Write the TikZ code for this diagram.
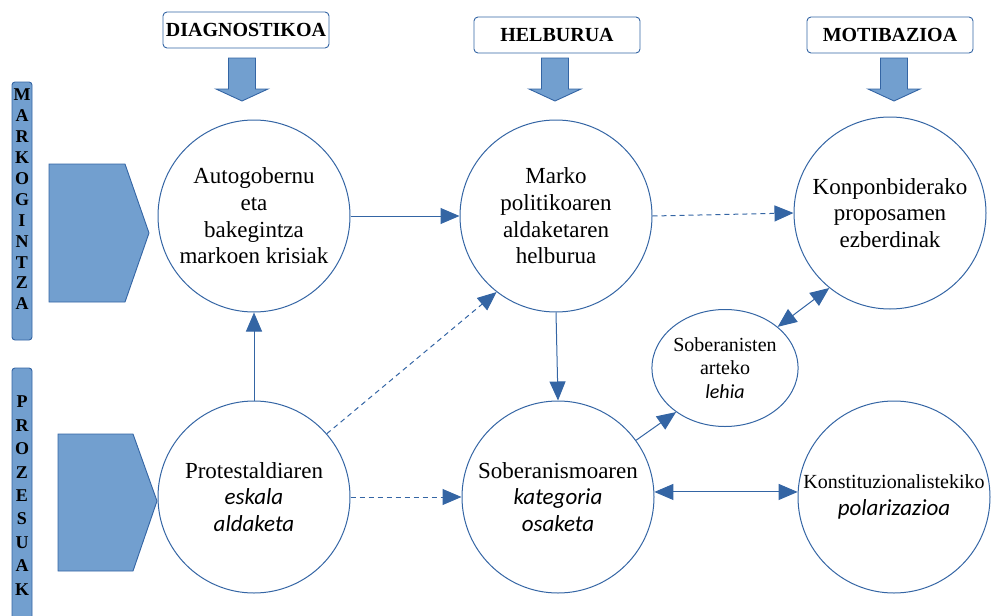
\documentclass[tikz,border=0pt]{standalone}
\usepackage{fontspec}
\setmainfont{Liberation Serif}
\newfontfamily\carlito{Carlito}
\usepackage{tikz}
\usetikzlibrary{arrows.meta,shapes.geometric}
\definecolor{markoblue}{RGB}{52,101,164}
\definecolor{markopale}{RGB}{114,159,207}
\newcommand{\etz}[1]{{\carlito\itshape #1}}

\begin{document}
\begin{tikzpicture}[x=1pt,y=-1pt,>={Triangle[length=19pt,width=16pt]},
  every node/.style={align=center,font=\fontsize{23}{26.6}\selectfont},
  hub/.style={draw=markoblue,line width=1pt,circle,minimum size=192pt,inner sep=0pt},
  header/.style={draw=markoblue,line width=0.9pt,rounded corners=4pt,minimum width=166pt,
    minimum height=36pt,inner sep=1pt,font=\fontsize{20}{24}\selectfont\bfseries},
  sidebar/.style={draw=markoblue,fill=markopale,line width=0.9pt},
  conn/.style={->,markoblue,line width=1pt},
  dconn/.style={conn,dash pattern=on 5pt off 4pt}]
  \useasboundingbox (0,0) rectangle (991,616);

  % column headers and their block arrows
  \node[header] (diag) at (246,30) {DIAGNOSTIKOA};
  \node[header] (helb) at (557,35) {HELBURUA};
  \node[header] (moti) at (890,35) {MOTIBAZIOA};
  \foreach \ax in {242,555,894}
    \filldraw[sidebar] (\ax-13.5,58) -- ++(27,0) -- ++(0,31) -- ++(12.5,0)
      -- ++(-26,12) -- ++(-26,-12) -- ++(12.5,0) -- cycle;

  % row labels
  \filldraw[sidebar,rounded corners=3pt] (12,82) rectangle (32,340);
  \filldraw[sidebar] (12,616) {[rounded corners=3pt] -- (12,368) -- (32,368)} -- (32,616);
  \node[font=\fontsize{18}{20.9}\selectfont\bfseries] (markolab) at (22,199.5)
    {M\\A\\R\\K\\O\\G\\I\\N\\T\\Z\\A};
  \node[font=\fontsize{18}{23.4}\selectfont\bfseries] (prozlab) at (22,495.5)
    {P\\R\\O\\Z\\E\\S\\U\\A\\K};
  \filldraw[sidebar] (49,164) -- (125,164) -- (149,233) -- (125,302) -- (49,302) -- cycle;
  \filldraw[sidebar] (58,434) -- (133,434) -- (157,501) -- (133,571) -- (58,571) -- cycle;

  % circles
  \node[hub] (auto) at (254,216) {Autogobernu\\eta\\bakegintza\\markoen krisiak};
  \node[hub] (marko) at (556,216) {Marko\\politikoaren\\aldaketaren\\helburua};
  \node[hub] (konp) at (890,213) {Konponbiderako\\proposamen\\ezberdinak};
  \node[hub] (prot) at (254,497) {Protestaldiaren\\\etz{eskala}\\\etz{aldaketa}};
  \node[hub] (sobm) at (558,497) {Soberanismoaren\\\etz{kategoria}\\\etz{osaketa}};
  \node[hub] (kons) at (894,497)
    {{\fontsize{20}{26}\selectfont Konstituzionalistekiko}\\\etz{polarizazioa}};
  \node[hub,ellipse,minimum width=136pt,minimum height=117pt,font=\fontsize{20}{23.5}\selectfont]
    (sobl) at (725,368) {Soberanisten\\arteko\\\etz{lehia}};

  % connectors
  \draw[conn] (auto.east) -- (marko.west);
  \draw[dconn] (marko.east) -- (konp.west);
  \draw[conn] (prot.north) -- (auto.south);
  \draw[dconn] (prot.41) -- (marko.232);
  \draw[dconn] (prot.east) -- (sobm.west);
  \draw[conn] (marko.south) -- (sobm.north);
  \draw[conn] (sobm.36) -- (sobl.222);
  \draw[conn,<->] (sobl.38) -- (konp.231);
  \draw[conn,<->] (sobm.3) -- (kons.177);
\end{tikzpicture}
\end{document}
